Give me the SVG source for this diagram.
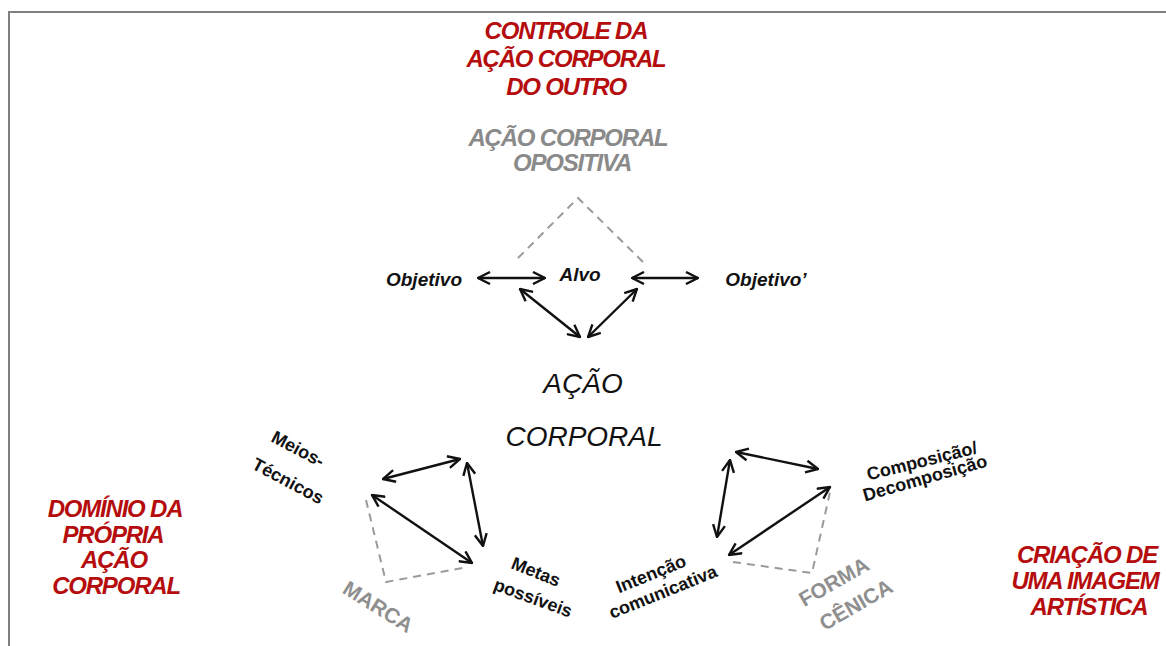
<svg xmlns="http://www.w3.org/2000/svg" width="1166" height="646" viewBox="0 0 1166 646">
<defs>
<style>
.t{font-family:"Liberation Sans",Arial,sans-serif;text-anchor:middle}
.red{font-weight:bold;font-style:italic;font-size:24px;letter-spacing:-1.2px;fill:#b50d0d}
.gray{font-weight:bold;font-style:italic;font-size:24px;letter-spacing:-1.2px;fill:#8a8a8a}
.gb{font-weight:bold;font-size:21px;fill:#8f8f8f}
.lbl{font-weight:bold;font-style:italic;font-size:19px;fill:#111}
.sm{font-weight:bold;font-size:18px;fill:#111}
.big{font-style:italic;font-size:28px;fill:#111}
.arr{stroke:#111;stroke-width:2.4;fill:none;marker-start:url(#ah);marker-end:url(#ah)}
.dash{stroke:#9a9a9a;stroke-width:2;fill:none;stroke-dasharray:8,6}
</style>
<marker id="ah" viewBox="0 0 14 14" refX="13" refY="7" markerWidth="14" markerHeight="14" markerUnits="userSpaceOnUse" orient="auto-start-reverse">
<path d="M1,1 L13,7 L1,13" fill="none" stroke="#111" stroke-width="2.4"/>
</marker>
</defs>
<rect width="1166" height="646" fill="#fff"/>
<path d="M9,646 V12 H1166" fill="none" stroke="#808080" stroke-width="2"/>

<g id="connectors">
<line class="arr" x1="478" y1="278" x2="545" y2="278"/>
<line class="arr" x1="632" y1="278" x2="698" y2="278"/>
<line class="arr" x1="520" y1="289" x2="580" y2="337"/>
<line class="arr" x1="637" y1="289" x2="588" y2="337"/>
<polyline class="dash" points="518,258 578,198 643,262"/>
<line class="arr" x1="383" y1="479" x2="460" y2="459"/>
<line class="arr" x1="467" y1="463" x2="483" y2="546"/>
<line class="arr" x1="372" y1="495" x2="472" y2="563"/>
<polyline class="dash" points="366,500 386,582 468,567"/>
<line class="arr" x1="736" y1="452" x2="818" y2="469"/>
<line class="arr" x1="730" y1="460" x2="717" y2="537"/>
<line class="arr" x1="830" y1="487" x2="729" y2="555"/>
<polyline class="dash" points="733,562 812,573 830,492"/>
</g>

<g id="controle"><text class="t red" x="566" y="39">CONTROLE DA</text><text class="t red" x="566" y="67">AÇÃO CORPORAL</text><text class="t red" x="566" y="95">DO OUTRO</text></g>
<g id="opositiva"><text class="t gray" x="568" y="146">AÇÃO CORPORAL</text><text class="t gray" x="572" y="171">OPOSITIVA</text></g>
<g id="objetivo"><text class="t lbl" x="424" y="286">Objetivo</text></g>
<g id="alvo"><text class="t lbl" x="580" y="281">Alvo</text></g>
<g id="objetivo2"><text class="t lbl" x="766" y="286">Objetivo’</text></g>
<g id="acao"><text class="t big" x="583" y="393">AÇÃO</text><text class="t big" x="584" y="446">CORPORAL</text></g>
<g id="meios"><text class="t sm" transform="translate(298,449) rotate(28)" y="6">Meios-</text><text class="t sm" transform="translate(288,481) rotate(28)" y="6">Técnicos</text></g>
<g id="metas"><text class="t sm" transform="translate(536,572) rotate(22)" y="6">Metas</text><text class="t sm" transform="translate(533,598) rotate(20)" y="6">possíveis</text></g>
<g id="marca"><text class="t gb" transform="translate(378,607) rotate(32)" y="7">MARCA</text></g>
<g id="intencao"><text class="t sm" transform="translate(651,574) rotate(-22)" y="6">Intenção</text><text class="t sm" transform="translate(663,592) rotate(-22)" y="6">comunicativa</text></g>
<g id="composicao"><text class="t sm" transform="translate(922,461) rotate(-14)" y="6">Composição/</text><text class="t sm" transform="translate(925,478) rotate(-16)" y="6">Decomposição</text></g>
<g id="forma"><text class="t gb" transform="translate(834,582) rotate(-30)" y="7">FORMA</text><text class="t gb" transform="translate(856,605) rotate(-30)" y="7">CÊNICA</text></g>
<g id="dominio"><text class="t red" x="115" y="517">DOMÍNIO DA</text><text class="t red" x="113" y="543">PRÓPRIA</text><text class="t red" x="114" y="568">AÇÃO</text><text class="t red" x="116" y="594">CORPORAL</text></g>
<g id="criacao"><text class="t red" x="1087" y="563">CRIAÇÃO DE</text><text class="t red" x="1085" y="589">UMA IMAGEM</text><text class="t red" x="1089" y="615">ARTÍSTICA</text></g>
</svg>
